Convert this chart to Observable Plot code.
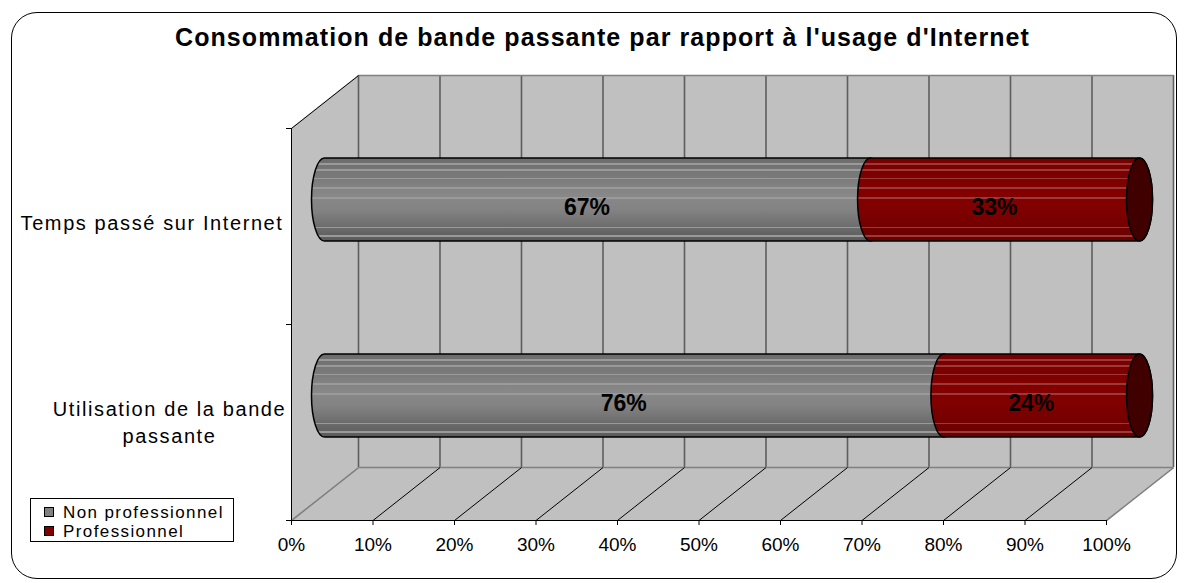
<!DOCTYPE html>
<html>
<head>
<meta charset="utf-8">
<script src="https://cdn.jsdelivr.net/npm/d3@7"></script>
<script src="https://cdn.jsdelivr.net/npm/@observablehq/plot@0.6"></script>
<style>
  body { margin: 0; background: #fff; font-family: "Liberation Sans", Arial, sans-serif; }
  #wrap { position: relative; width: 1187px; height: 583px; overflow: hidden; background: #fff; }
  #frame { position: absolute; left: 11px; top: 12px; width: 1166px; height: 567px; box-sizing: border-box;
           border: 1px solid #000; border-radius: 26px; }
  #title { position: absolute; left: 175px; top: 23px; font: bold 25px "Liberation Sans", Arial, sans-serif;
           white-space: nowrap; color: #000; }
  #chart { position: absolute; left: 0; top: 0; }
  #legend { position: absolute; left: 30px; top: 498px; width: 204px; height: 44px; box-sizing: border-box;
            border: 1px solid #000; background: #fff; padding-top: 4px; }
  #legend .item { position: relative; height: 19px; line-height: 19px; font-size: 17px; letter-spacing: 1.4px;
                  padding-left: 32px; white-space: nowrap; }
  #legend .sw { position: absolute; left: 13px; top: 4px; width: 10px; height: 10px; box-sizing: border-box;
                border: 1px solid #000; }
  text[aria-label="category-label"] { letter-spacing: 1.6px; }
</style>
</head>
<body>
<div id="wrap">
  <div id="frame"></div>
  <div id="chart"></div>
  <div id="title"></div>
  <div id="legend"></div>
</div>
<script>
// ---- data ----
const title = "Consommation de bande passante par rapport à l'usage d'Internet";
const categories = ["Temps passé sur Internet", "Utilisation de la bande passante"];
const categoryLines = [["Temps passé sur Internet"], ["Utilisation de la bande", "passante"]];
const seriesNames = ["Non professionnel", "Professionnel"];
const nonProfessionnel = [0.67, 0.76];
const professionnel = [0.33, 0.24];
const xTicks = [0, 0.1, 0.2, 0.3, 0.4, 0.5, 0.6, 0.7, 0.8, 0.9, 1];

// ---- style constants ----
const DEPTH_X = 0.0822;   // 3D depth along x (x-domain units)
const DEPTH_Y = 0.27;     // 3D depth along y (category units)
const WALL = "#c0c0c0";
const seriesColors = ["#808080", "#800000"];
const grayBase = [[0, "#6c6c6c"], [0.45, "#888888"], [0.62, "#838383"], [1, "#5a5a5a"]];
const redBase = [[0, "#780000"], [0.45, "#840000"], [0.62, "#800000"], [1, "#680000"]];
const stripePos = [0.07, 0.145, 0.25, 0.36, 0.48, 0.84, 0.94];

// ---- derived tables ----
const segments = [];
categories.forEach((c, i) => segments.push({i, s: 0, x1: 0, x2: nonProfessionnel[i], v: nonProfessionnel[i], fill: "url(#gGray)"}));
categories.forEach((c, i) => segments.push({i, s: 1, x1: nonProfessionnel[i], x2: nonProfessionnel[i] + professionnel[i], v: professionnel[i], fill: "url(#gRed)"}));
const caps = categories.map((c, i) => ({i, x: nonProfessionnel[i] + professionnel[i]}));
const singleLabels = categoryLines.map((l, i) => ({i, t: l.join("\n"), n: l.length})).filter(d => d.n === 1);
const multiLabels = categoryLines.map((l, i) => ({i, t: l.join("\n"), n: l.length})).filter(d => d.n > 1);
const pct = d3.format(".0%");

const barOpts = {
  y1: d => d.i - DEPTH_Y / 2, y2: d => d.i + 1 - DEPTH_Y / 2,
  insetTop: 56.5, insetBottom: 56.5, insetLeft: -13, insetRight: -13,
  rx: 13, ry: 41.5, stroke: "#000", strokeWidth: 1.5
};

const plot = Plot.plot({
  width: 1187, height: 583,
  marginLeft: 291, marginRight: 81, marginTop: 128, marginBottom: 63,
  x: {domain: [0, 1]},
  y: {domain: [0, 2], reverse: true},
  color: {type: "identity"},
  style: {fontFamily: "'Liberation Sans', Arial, sans-serif", fontSize: "19px", color: "#000", background: "transparent", overflow: "visible"},
  marks: [
    // left wall
    Plot.areaY([{x: 0, y1: 0, y2: 2}, {x: DEPTH_X, y1: -DEPTH_Y, y2: 2 - DEPTH_Y}], {x: "x", y1: "y1", y2: "y2", fill: WALL}),
    // back wall
    Plot.rect([0], {x1: () => DEPTH_X, x2: () => 1 + DEPTH_X, y1: () => -DEPTH_Y, y2: () => 2 - DEPTH_Y, fill: WALL}),
    // floor
    Plot.areaX([{y: 2, x1: 0, x2: 1}, {y: 2 - DEPTH_Y, x1: DEPTH_X, x2: 1 + DEPTH_X}], {y: "y", x1: "x1", x2: "x2", fill: WALL}),
    // back wall gridlines
    Plot.ruleX(xTicks, {x: d => d + DEPTH_X, y1: () => -DEPTH_Y, y2: () => 2 - DEPTH_Y, stroke: "#5e5e5e", strokeWidth: 1.6}),
    // back wall top edge & floor back edge
    Plot.link([-DEPTH_Y, 2 - DEPTH_Y], {x1: () => DEPTH_X, x2: () => 1 + DEPTH_X, y1: d => d, y2: d => d, stroke: "#808080", strokeWidth: 1.5}),
    // floor diagonals
    Plot.link(xTicks, {x1: d => d, y1: () => 2, x2: d => d + DEPTH_X, y2: () => 2 - DEPTH_Y,
      stroke: d => (d === 0 || d === 1) ? "#808080" : "#000", strokeWidth: d => (d === 0 || d === 1) ? 1.6 : 1}),
    // left wall top edge
    Plot.link([0], {x1: () => 0, y1: () => 0, x2: () => DEPTH_X, y2: () => -DEPTH_Y, stroke: "#000"}),
    // left wall front edge and floor front edge
    Plot.ruleX([0], {y1: () => 0, y2: () => 2, stroke: "#000"}),
    Plot.ruleY([2], {x1: () => 0, x2: () => 1, stroke: "#000"}),
    // axes
    Plot.axisY({ticks: [0, 1, 2], tickSize: 5, tickFormat: () => "", stroke: "#000"}),
    Plot.axisX({ticks: xTicks, tickFormat: pct, tickSize: 5, tickPadding: 12, fontSize: 19, stroke: "#000"}),
    // cylinders
    Plot.rect(segments, {...barOpts, x1: d => d.x1 + DEPTH_X / 2, x2: d => d.x2 + DEPTH_X / 2, fill: "fill"}),
    Plot.rect(caps, {...barOpts, x1: d => d.x + DEPTH_X / 2, x2: d => d.x + DEPTH_X / 2, fill: "#400000"}),
    // value labels
    Plot.text(segments, {x: d => (d.x1 + d.x2) / 2 + DEPTH_X / 2, y: d => d.i + 0.5 - DEPTH_Y / 2,
      text: d => pct(d.v), fontSize: 23, fontWeight: "bold", fill: "#000", dx: -11, dy: 8}),
    // category labels
    Plot.text(singleLabels, {y: d => d.i + 0.5, text: "t", frameAnchor: "left", textAnchor: "end",
      dx: -8, dy: -3, fontSize: 20, fill: "#000", ariaLabel: () => "category-label"}),
    Plot.text(multiLabels, {y: d => d.i + 0.5, text: "t", frameAnchor: "left", textAnchor: "middle",
      dx: -122, dy: -2, fontSize: 20, lineHeight: 1.35, fill: "#000", ariaLabel: () => "category-label"})
  ]
});

// gradients for cylinder shading
function addGradient(defs, id, base, stripe) {
  const interp = d3.scaleLinear().domain(base.map(b => b[0])).range(base.map(b => b[1])).interpolate(d3.interpolateRgb);
  const w = 0.008;
  let stops = base.map(b => [b[0], b[1]]);
  stripePos.forEach(s => {
    stops.push([s - w - 0.0001, interp(s - w)]);
    stops.push([s - w, stripe]);
    stops.push([s + w, stripe]);
    stops.push([s + w + 0.0001, interp(s + w)]);
  });
  stops.sort((a, b) => a[0] - b[0]);
  const g = defs.append("linearGradient").attr("id", id).attr("x1", 0).attr("y1", 0).attr("x2", 0).attr("y2", 1);
  stops.forEach(s => g.append("stop").attr("offset", s[0]).attr("stop-color", s[1]));
}
const defs = d3.select(plot).insert("defs", ":first-child");
addGradient(defs, "gGray", grayBase, "#9a9a9a");
addGradient(defs, "gRed", redBase, "#9c3a3a");

document.getElementById("chart").appendChild(plot);

// title fitted to the reference width
const t = document.getElementById("title");
t.textContent = title;
const ctx = document.createElement("canvas").getContext("2d");
ctx.font = "bold 25px 'Liberation Sans', Arial, sans-serif";
const natural = ctx.measureText(title).width;
t.style.letterSpacing = Math.max(0, (855 - natural) / title.length) + "px";

// legend
const lg = d3.select("#legend");
seriesNames.forEach((name, k) => {
  const it = lg.append("div").attr("class", "item");
  it.append("span").attr("class", "sw").style("background", seriesColors[k]);
  it.append("span").text(name);
});
</script>
</body>
</html>
